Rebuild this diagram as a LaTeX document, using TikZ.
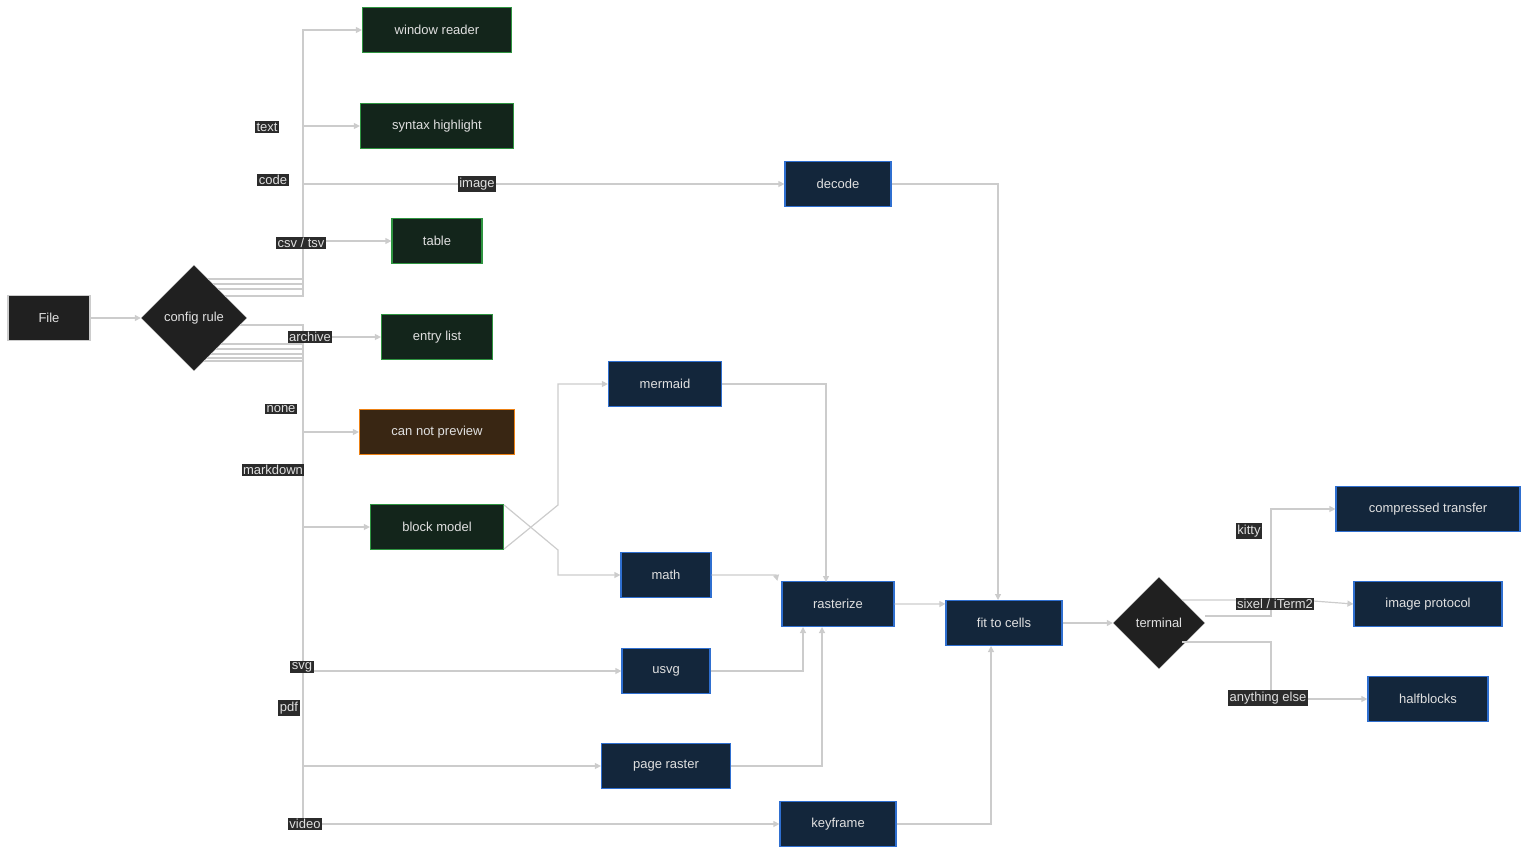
\documentclass[tikz,border=0pt]{standalone}
\usepackage{fontspec}
\setmainfont{Liberation Sans}
\usetikzlibrary{calc,shapes.geometric,arrows.meta}
\definecolor{cEdge}{HTML}{CCCCCC}
\definecolor{cText}{HTML}{E0E0E0}
\definecolor{cGreenF}{HTML}{13251B}
\definecolor{cGreenD}{HTML}{2E9440}
\definecolor{cBlueF}{HTML}{13263B}
\definecolor{cBlueD}{HTML}{2F6FD0}
\definecolor{cDark}{HTML}{202020}
\definecolor{cLab}{HTML}{2B2B2B}
\tikzset{
  box/.style={draw, line width=1.2pt, minimum height=45pt, text=cText, font=\fontsize{13}{15}\selectfont},
  gbox/.style={box, fill=cGreenF, draw=cGreenD},
  bbox/.style={box, fill=cBlueF, draw=cBlueD},
  dia/.style={diamond, aspect=1, fill=cDark, draw=cEdge, line width=0.4pt, inner sep=0pt, text=cText, font=\fontsize{13}{15}\selectfont},
  lab/.style={fill=cLab, text=cText, inner sep=1.5pt, font=\fontsize{13}{15}\selectfont},
  edge/.style={draw=cEdge, line width=1.2pt, -{Triangle[length=6pt,width=6pt]}},
}
\begin{document}
\begin{tikzpicture}[x=1pt,y=-1pt]
\useasboundingbox (0,0) rectangle (1528,855);
% nodes
\node[box, fill=cDark, draw=cEdge, minimum width=82pt] (file) at (49,318) {File};
\node[dia, minimum size=106pt] (cfg) at (194,318) {config rule};
\node[gbox, minimum width=149pt] (win) at (437,30) {window reader};
\node[gbox, minimum width=153pt] (syn) at (437,126) {syntax highlight};
\node[bbox, minimum width=106pt] (dec) at (838,184) {decode};
\node[gbox, minimum width=90pt] (tab) at (437,241) {table};
\node[gbox, minimum width=111pt] (ent) at (437,337) {entry list};
\node[bbox, minimum width=113pt] (mer) at (665,384) {mermaid};
\node[box, fill=brown!30!black, draw=orange!70!brown, minimum width=155pt] (cnp) at (437,432) {can not preview};
\node[gbox, minimum width=133pt] (blk) at (437,527) {block model};
\node[bbox, minimum width=90pt] (mat) at (666,575) {math};
\node[bbox, minimum width=112pt] (ras) at (838,604) {rasterize};
\node[bbox, minimum width=116pt] (fit) at (1004,623) {fit to cells};
\node[dia, minimum size=92pt] (term) at (1159,623) {terminal};
\node[bbox, minimum width=184pt] (cmp) at (1428,509) {compressed transfer};
\node[bbox, minimum width=148pt] (ipr) at (1428,604) {image protocol};
\node[bbox, minimum width=120pt] (hbl) at (1428,699) {halfblocks};
\node[bbox, minimum width=88pt] (usv) at (666,671) {usvg};
\node[bbox, minimum width=129pt] (pgr) at (666,766) {page raster};
\node[bbox, minimum width=116pt] (key) at (838,824) {keyframe};
% edges
\draw[edge] (file) -- (cfg);
\draw[edge] ($(cfg.center)+(14,-39)$) -- (303,279) |- (win);
\draw[edge] ($(cfg.center)+(19,-34)$) -- (303,284) |- (syn);
\draw[edge] ($(cfg.center)+(24,-29)$) -- (303,289) |- (dec);
\draw[edge] ($(cfg.center)+(31,-22)$) -- (303,296) |- (tab);
\draw[edge] ($(cfg.center)+(46,7)$) -- (303,325) |- (ent);
\draw[edge] ($(cfg.center)+(27,26)$) -- (303,344) |- (cnp);
\draw[edge] ($(cfg.center)+(22,31)$) -- (303,349) |- (blk);
\draw[edge] ($(cfg.center)+(17,36)$) -- (303,354) |- (usv);
\draw[edge] ($(cfg.center)+(13,40)$) -- (303,358) |- (pgr);
\draw[edge] ($(cfg.center)+(10,43)$) -- (303,361) |- (key);
\draw[edge] ([yshift=-22pt]blk.east) -- (558,505) |- (mer);
\draw[edge] ([yshift=22pt]blk.east) -- (558,550) |- (mat);
\draw[edge] (mer.east) -| (826,582);
\draw[edge] (mat.east) -- (776,575) -- ([xshift=-4pt]ras.north west);
\draw[edge] (usv.east) -| (803,627);
\draw[edge] (pgr.east) -| (822,627);
\draw[edge] (dec.east) -| (998,600);
\draw[edge] (ras.east) -- (940,604) -- ([yshift=-4pt]fit.north west);
\draw[edge] (key.east) -| (991,646);
\draw[edge] (fit) -- (term);
\draw[edge] ($(term.center)+(46,-7)$) -- (1271,616) |- (cmp);
\draw[edge] ($(term.center)+(23,-23)$) -- (1300,600) -- (ipr.west);
\draw[edge] ($(term.center)+(23,19)$) -- (1271,642) |- (hbl);
% labels
\node[lab] (lText) at (267,127) {text};
\node[lab] (lCode) at (273,180) {code};
\node[lab] (lImg) at (477,184) {image};
\node[lab] (lCsv) at (301,243) {csv / tsv};
\node[lab] (lArc) at (310,337) {archive};
\node[lab] (lNone) at (281,409) {none};
\node[lab] (lMd) at (273,470) {markdown};
\node[lab] (lSvg) at (302,667) {svg};
\node[lab] (lPdf) at (289,708) {pdf};
\node[lab] (lVid) at (305,824) {video};
\node[lab] (lKit) at (1249,531) {kitty};
\node[lab] (lSix) at (1275,604) {sixel / iTerm2};
\node[lab] (lAny) at (1268,698) {anything else};
\end{tikzpicture}
\end{document}
